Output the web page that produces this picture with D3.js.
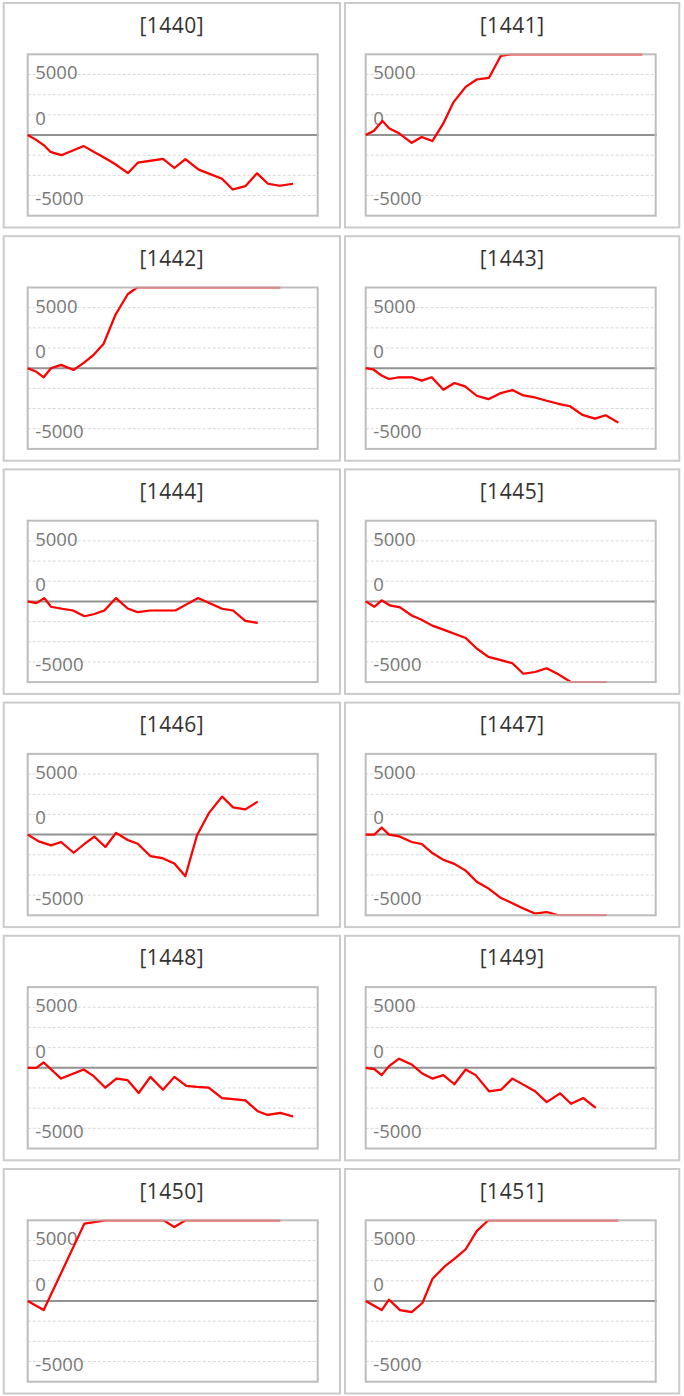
<!DOCTYPE html>
<html>
<head>
<meta charset="utf-8">
<script src="https://cdn.jsdelivr.net/npm/d3@7/dist/d3.min.js"></script>
<style>
  html, body { margin: 0; padding: 0; background: #fff; }
  svg { display: block; }
</style>
</head>
<body>
<svg id="chart" width="684" height="1396"></svg>
<script>
// ---- data: [games, difference] ----
const machines = ["1440","1441","1442","1443","1444","1445","1446","1447","1448","1449","1450","1451"];

const s1440 = [[0,0],[230,-430],[480,-1000],[680,-1670],[1010,-2000],[1680,-1100],[2380,-2400],[2630,-2900],[3010,-3770],[3310,-2730],[4060,-2370],[4400,-3270],[4730,-2400],[5130,-3430],[5830,-4330],[6150,-5400],[6530,-5070],[6880,-3800],[7210,-4830],[7560,-5030],[7960,-4830]];
const s1441 = [[0,0],[250,430],[500,1400],[700,670],[1000,170],[1380,-770],[1680,-200],[2000,-600],[2320,1100],[2630,3230],[3000,4770],[3330,5500],[3700,5670],[4050,7830],[4350,8300],[8300,8600]];
const s1442 = [[0,0],[230,-300],[480,-900],[700,0],[1000,330],[1380,-170],[1680,530],[1960,1270],[2280,2430],[2630,5270],[3000,7330],[3280,8100],[7580,8500]];
const s1443 = [[0,0],[230,-130],[480,-730],[700,-1070],[1000,-900],[1380,-900],[1680,-1230],[1980,-900],[2330,-2130],[2660,-1470],[2980,-1800],[3330,-2730],[3680,-3070],[4030,-2500],[4400,-2170],[4730,-2700],[5080,-2900],[5430,-3230],[5780,-3530],[6130,-3770],[6500,-4630],[6880,-5000],[7200,-4670],[7580,-5400]];
const s1444 = [[0,0],[260,-170],[500,330],[700,-530],[1030,-730],[1360,-900],[1700,-1470],[1980,-1270],[2300,-900],[2650,330],[3000,-700],[3300,-1070],[3680,-900],[4080,-900],[4430,-900],[4780,-270],[5110,330],[5480,-200],[5830,-730],[6160,-900],[6530,-1930],[6900,-2130]];
const s1445 = [[0,0],[260,-530],[480,100],[730,-400],[1030,-600],[1380,-1400],[1660,-1800],[2000,-2400],[2330,-2800],[2680,-3230],[3000,-3630],[3330,-4670],[3680,-5500],[4030,-5800],[4400,-6130],[4730,-7170],[5080,-7000],[5430,-6630],[5780,-7230],[6160,-8050],[7230,-8400]];
const s1446 = [[0,0],[330,-670],[700,-1070],[1000,-730],[1380,-1800],[1700,-930],[2000,-200],[2330,-1230],[2650,170],[3000,-530],[3300,-900],[3680,-2130],[4030,-2330],[4400,-2870],[4730,-4130],[5080,-70],[5430,2100],[5830,3770],[6160,2700],[6530,2500],[6900,3270]];
const s1447 = [[0,0],[260,0],[480,700],[700,0],[1000,-170],[1380,-730],[1680,-930],[2000,-1830],[2330,-2500],[2660,-2900],[3000,-3570],[3330,-4670],[3680,-5330],[4030,-6230],[4400,-6800],[4730,-7330],[5080,-7830],[5430,-7670],[5780,-8050],[7230,-8300]];
const s1448 = [[0,0],[260,0],[480,530],[1000,-1070],[1680,-170],[1980,-830],[2330,-1970],[2660,-1070],[3000,-1230],[3330,-2500],[3680,-900],[4060,-2170],[4400,-900],[4760,-1800],[5080,-1900],[5430,-1970],[5830,-3000],[6160,-3100],[6530,-3230],[6900,-4300],[7200,-4670],[7580,-4470],[7960,-4830]];
const s1449 = [[0,0],[260,-130],[480,-730],[700,170],[1000,900],[1380,330],[1700,-570],[2000,-1070],[2330,-730],[2660,-1630],[3000,-170],[3300,-730],[3700,-2330],[4060,-2170],[4400,-1070],[4730,-1670],[5080,-2330],[5430,-3400],[5830,-2530],[6160,-3570],[6530,-3000],[6900,-3970]];
const s1450 = [[0,0],[480,-900],[1700,7670],[2330,8300],[4080,8200],[4400,7330],[4730,8200],[7580,8500]];
const s1451 = [[0,0],[480,-900],[700,130],[1030,-900],[1380,-1100],[1700,-200],[2000,2170],[2360,3400],[2660,4170],[3000,5130],[3330,6930],[3680,8100],[7580,8600]];
const series = [s1440,s1441,s1442,s1443,s1444,s1445,s1446,s1447,s1448,s1449,s1450,s1451];

const gridValues = [6000, 4000, 2000, -2000, -4000, -6000];
const tickLabels = ["5000", "0", "-5000"];
const tickAt = [6000, 2000, -6000];
const tickDy = [5, 10, 9.5];

// ---- layout ----
const rowPitch = 233.2;
const panelX = [3.7, 345];
const panelW = [336.3, 334.3];
const plotX = [27.7, 365.7];
const plotW = 290;
const halfH = 80.7;

const svg = d3.select("#chart");
const font = "'Open Sans', 'Noto Sans', sans-serif";

const x = d3.scaleLinear().domain([0, 8700]).range([0, plotW]);

machines.forEach((name, i) => {
  const col = i % 2, row = Math.floor(i / 2);
  const zero = 135 + row * rowPitch;
  const top = zero - halfH, bottom = zero + halfH;
  const y = d3.scaleLinear().domain([-8000, 8000]).range([bottom, top]).clamp(true);
  const g = svg.append("g");

  // panel frame
  g.append("rect")
    .attr("x", panelX[col]).attr("y", 3 + row * rowPitch)
    .attr("width", panelW[col]).attr("height", 224.5)
    .attr("fill", "#fff").attr("stroke", "#cbcbcb").attr("stroke-width", 2);

  // title
  g.append("text")
    .attr("x", panelX[col] + panelW[col] / 2).attr("y", 32.5 + row * rowPitch)
    .attr("text-anchor", "middle")
    .attr("font-family", font).attr("font-size", 21).attr("fill", "#333")
    .attr("letter-spacing", 0.5)
    .text("[" + name + "]");

  const px = plotX[col];
  const plot = g.append("g").attr("transform", `translate(${px},0)`);

  // dashed gridlines
  plot.selectAll("line.grid").data(gridValues).join("line")
    .attr("class", "grid")
    .attr("x1", 0).attr("x2", plotW)
    .attr("y1", d => y(d)).attr("y2", d => y(d))
    .attr("stroke", "#d8d8d8").attr("stroke-width", 1).attr("stroke-dasharray", "3,2");

  // tick labels
  plot.selectAll("text.tick").data(tickLabels).join("text")
    .attr("class", "tick")
    .attr("x", 7.5)
    .attr("y", (d, k) => y(tickAt[k]) + tickDy[k])
    .attr("font-family", font).attr("font-size", 18.5).attr("fill", "#787878")
    .text(d => d);

  // zero line
  plot.append("line")
    .attr("x1", 0).attr("x2", plotW + 1)
    .attr("y1", y(0)).attr("y2", y(0))
    .attr("stroke", "#929292").attr("stroke-width", 2);

  // plot border
  plot.append("rect")
    .attr("x", 0).attr("y", top).attr("width", plotW).attr("height", bottom - top)
    .attr("fill", "none").attr("stroke", "#bdbdbd").attr("stroke-width", 2);

  // line
  const clipId = "clip" + i;
  svg.append("clipPath").attr("id", clipId)
    .append("rect").attr("x", px - 1.5).attr("y", top + 1)
    .attr("width", plotW + 0.5).attr("height", bottom - top - 2);

  const line = d3.line().x(d => x(d[0])).y(d => y(d[1]));
  const lineG = g.append("g").attr("clip-path", `url(#${clipId})`);
  lineG.append("path")
    .attr("transform", `translate(${px},0)`)
    .attr("d", line(series[i]))
    .attr("fill", "none").attr("stroke", "#ff0000").attr("stroke-width", 2.2)
    .attr("stroke-linejoin", "round");
  plot.append("path")
    .attr("d", line(series[i]))
    .attr("fill", "none").attr("stroke", "#ff0000").attr("stroke-width", 2)
    .attr("stroke-opacity", 0.25)
    .attr("stroke-linejoin", "round");
});
</script>
</body>
</html>
